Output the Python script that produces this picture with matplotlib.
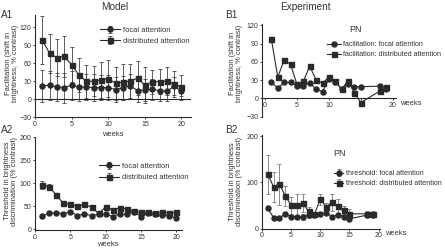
import matplotlib
matplotlib.use('Agg')
import matplotlib.pyplot as plt

plt.rcParams['font.family'] = ['Liberation Sans', 'DejaVu Sans']

# ---------------- data ----------------
weeks_model = list(range(1, 21))
a1_focal = [22, 23, 20, 19, 23, 20, 20, 19, 19, 19, 15.5, 19, 22, 14, 15, 16, 14, 13, 21, 13]
a1_focal_err = [27, 24, 24, 25, 24, 23, 22, 22, 21, 21, 21, 20, 20, 19, 19, 18, 17, 16, 15, 8]
a1_dist = [98, 76, 69, 71, 57, 40, 29.5, 29.5, 32, 34, 26, 28.5, 29.5, 35, 23, 29, 29, 30, 25, 19.5]
a1_dist_err = [40, 33, 31, 34, 29, 29, 27, 25, 30, 31, 27, 30, 29, 29, 30, 20, 21, 23, 22, 21]

a2_focal = [28, 35, 35, 33, 38, 29, 33, 29, 32, 32, 27, 33, 32, 38, 27, 34, 32, 31, 28, 24]
a2_focal_err = [3, 3, 3, 3, 3, 3, 3, 3, 3, 3, 3, 3, 3, 3, 3, 3, 3, 3, 3, 3]
a2_dist = [96, 92, 74, 56, 54, 49, 54, 47, 34, 48, 42, 46, 44, 39, 36, 38, 34, 38, 34, 36]
a2_dist_err = [8, 5, 5, 4, 4, 3, 4, 4, 4, 4, 3, 3, 3, 3, 3, 3, 3, 3, 3, 3]

weeks_exp = [1, 2, 3, 4, 5, 6, 7, 8, 9, 10, 11, 12, 13, 14, 15, 18, 19]
b1_focal = [26, 17, 26, 26, 21, 21, 25, 15, 11, 32, 27, 15, 24, 19, 19, 20, 15]
b1_dist = [97, 35, 63, 56, 23, 28, 53, 30, 25, 35, 28, 15, 29, 9, -7, 12, 18]

b2_focal = [44, 23, 23, 32, 26, 26, 25, 29, 29, 32, 34, 26, 29, 26, 21, 29, 29]
b2_focal_err = [4, 2, 2, 3, 3, 3, 6, 6, 3, 3, 3, 3, 3, 3, 3, 3, 3]
b2_dist = [118, 90, 96, 71, 50, 50, 55, 37, 31, 64, 47, 57, 48, 40, 32, 32, 32]
b2_dist_err = [42, 33, 44, 22, 19, 25, 19, 10, 5, 12, 8, 19, 16, 8, 10, 5, 5]

# ---------------- style ----------------
W, H = 445, 249
DARK = '#2a2a2a'
TXT = '#333333'
FS = 5.4
TFS = 5.0
LFS = 5.1
fig = plt.figure(figsize=(W / 100, H / 100), dpi=100)


def px_axes(left, right, top, bottom):
    return fig.add_axes([left / W, 1 - bottom / H, (right - left) / W, (bottom - top) / H])


def style(ax):
    for s in ['top', 'right']:
        ax.spines[s].set_visible(False)
    for s in ['left', 'bottom']:
        ax.spines[s].set_linewidth(0.8)
        ax.spines[s].set_color(DARK)
    ax.tick_params(labelsize=TFS, length=1.6, width=0.6, pad=1.0, colors=DARK, labelcolor=TXT)


def ftext(text, x, y, **kw):
    kw.setdefault('fontsize', FS)
    kw.setdefault('color', TXT)
    kw.setdefault('ha', 'center')
    kw.setdefault('va', 'center')
    fig.text(x / W, 1 - y / H, text, **kw)


def ylab(text, x, y):
    ftext(text, x, y, rotation=90, multialignment='center', linespacing=1.05)


lkw = dict(color=DARK, lw=0.8, markersize=3.6, markerfacecolor=DARK, markeredgecolor=DARK)
ekw = dict(ecolor='#444444', elinewidth=0.6, capsize=1.5, capthick=0.6)

ylab_fac = 'Facilitation (shift in\nbrightness, % contrast)'
ylab_thr = 'Threshold in brightness\ndiscrimination (% contrast)'

# ---------- A1 ----------
ax = px_axes(35, 191, 15, 117)
style(ax)
ax.errorbar(weeks_model, a1_focal, yerr=a1_focal_err, marker='o', label='focal attention', **lkw, **ekw)
ax.errorbar(weeks_model, a1_dist, yerr=a1_dist_err, marker='s', label='distributed attention', **lkw, **ekw)
ax.axhline(0, color=DARK, lw=0.8)
ax.set_xlim(0, 21.3)
ax.set_ylim(-30, 140)
ax.set_xticks([0, 5, 10, 15, 20])
ax.set_yticks([-30, 0, 30, 60, 90, 120])
ftext('weeks', 113, 134)
ylab(ylab_fac, 12, 63)
ax.legend(frameon=False, fontsize=FS, loc='upper left', bbox_to_anchor=(96 / W, 1 - 23 / H),
          bbox_transform=fig.transFigure, borderpad=0, handlelength=2.7, handletextpad=0.35,
          labelspacing=0.45, labelcolor=TXT)

# ---------- A2 ----------
ax = px_axes(35, 182, 137, 230.4)
style(ax)
ax.errorbar(weeks_model, a2_focal, yerr=a2_focal_err, marker='o', label='focal attention', **lkw, **ekw)
ax.errorbar(weeks_model, a2_dist, yerr=a2_dist_err, marker='s', label='distributed attention', **lkw, **ekw)
ax.set_xlim(0, 20.8)
ax.set_ylim(-3, 200)
ax.set_xticks([0, 5, 10, 15, 20])
ax.set_yticks([0, 50, 100, 150, 200])
ftext('weeks', 108, 244)
ylab(ylab_thr, 11, 181)
ax.legend(frameon=False, fontsize=FS, loc='upper left', bbox_to_anchor=(95 / W, 1 - 159 / H),
          bbox_transform=fig.transFigure, borderpad=0, handlelength=2.7, handletextpad=0.35,
          labelspacing=0.55, labelcolor=TXT)

# ---------- B1 ----------
ax = px_axes(261.8, 396, 24.2, 116.5)
style(ax)
ax.spines['bottom'].set_position(('data', 0))
ax.plot(weeks_exp, b1_focal, marker='o', label='facilitation: focal attention', **lkw)
ax.plot(weeks_exp, b1_dist, marker='s', label='facilitation: distributed attention', **lkw)
ax.set_xlim(-0.5, 20.5)
ax.set_ylim(-30, 122)
ax.set_xticks([0, 5, 10, 15, 20])
ax.set_xticklabels(['0', '5', '10', '', '20'])
ax.set_yticks([-30, 0, 30, 60, 90, 120])
ylab(ylab_fac, 236, 63)
ax.legend(frameon=False, fontsize=LFS, loc='upper left', bbox_to_anchor=(323 / W, 1 - 37.5 / H),
          bbox_transform=fig.transFigure, borderpad=0, handlelength=2.0, handletextpad=0.35,
          labelspacing=0.45, labelcolor=TXT)
ftext('PN', 355, 29, fontsize=6.5)
ftext('weeks', 400, 103.5, ha='left')

# ---------- B2 ----------
ax = px_axes(262, 380.3, 135.1, 228.5)
style(ax)
ax.errorbar(weeks_exp, b2_focal, yerr=b2_focal_err, marker='o', label='threshold: focal attention',
            **lkw, ecolor='#777777', elinewidth=0.6, capsize=1.5, capthick=0.6)
ax.errorbar(weeks_exp, b2_dist, yerr=b2_dist_err, marker='s', label='threshold: distributed attention',
            **lkw, ecolor='#777777', elinewidth=0.6, capsize=1.5, capthick=0.6)
ax.set_xlim(0, 20.3)
ax.set_ylim(0, 203)
ax.set_xticks([0, 5, 10, 15, 20])
ax.set_yticks([0, 100, 200])
ylab(ylab_thr, 236, 182)
ax.legend(frameon=False, fontsize=LFS, loc='upper left', bbox_to_anchor=(330 / W, 1 - 166.5 / H),
          bbox_transform=fig.transFigure, borderpad=0, handlelength=1.4, handletextpad=0.35,
          labelspacing=0.45, labelcolor=TXT)
ftext('PN', 340, 153, fontsize=6.5)
ftext('weeks', 385, 233.5, ha='left')

# ---------- titles / panel labels ----------
ftext('Model', 115, 7, fontsize=7.2)
ftext('Experiment', 305, 7, fontsize=7.2)
for lab, x, y in [('A1', 1, 15), ('A2', 1, 130), ('B1', 225, 15), ('B2', 225, 130)]:
    ftext(lab, x, y, fontsize=7.2, ha='left')

fig.savefig('out.png', dpi=100)
